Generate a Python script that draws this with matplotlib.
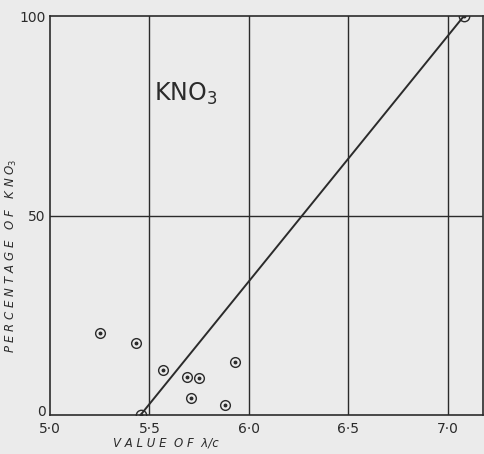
import matplotlib
matplotlib.use("Agg")
import matplotlib.pyplot as plt
import matplotlib.transforms as mtransforms

# Data
pts_x = [5.25, 5.43, 5.57, 5.69, 5.75, 5.71, 5.88, 5.93]
pts_y = [20.6, 18.0, 11.3, 9.4, 9.3, 4.3, 2.6, 13.2]
line_x = [5.455, 7.08]
line_y = [0, 100]
xticks = [5.0, 5.5, 6.0, 6.5, 7.0]
xtick_labels = ["5·0", "5·5", "6·0", "6·5", "7·0"]
yticks = [0, 50, 100]
ytick_labels = ["0", "50", "100"]

bg = "#ebebeb"
ink = "#2b2b2b"

fig = plt.figure(figsize=(4.84, 4.54), dpi=100, facecolor=bg)
ax = fig.add_axes([50/484, 39/454, 433/484, 399/454], facecolor=bg)

ax.set_xlim(5.0, 5.0 + 433/199)
ax.set_ylim(0, 100)

for xv in xticks[1:]:
    ax.axvline(xv, color=ink, lw=1.0, zorder=1)
ax.axhline(50, color=ink, lw=1.0, zorder=1)

for s in ax.spines.values():
    s.set_color(ink)
    s.set_linewidth(1.2)

ax.plot(line_x, line_y, color=ink, lw=1.4, zorder=3)
ax.plot(line_x, line_y, linestyle="none", marker="o", ms=7.5, mfc="none",
        mec=ink, mew=1.0, zorder=4)
ax.plot(pts_x, pts_y, linestyle="none", marker="o", ms=7, mfc="none",
        mec=ink, mew=1.0, zorder=4)
ax.plot(pts_x + line_x, pts_y + line_y, linestyle="none", marker="o", ms=1.8,
        color=ink, zorder=5)

ax.set_xticks(xticks)
ax.set_xticklabels(xtick_labels)
ax.set_yticks(yticks)
ax.set_yticklabels(ytick_labels)
ax.tick_params(length=0, labelsize=10, labelcolor=ink, pad=5)
ax.tick_params(axis="y", pad=3)

fig.canvas.draw()
zero_lbl = ax.get_yticklabels()[0]
zero_lbl.set_transform(zero_lbl.get_transform() +
                       mtransforms.ScaledTranslation(0, 4/100, fig.dpi_scale_trans))

ax.text(5.525, 80.5, "KNO$_3$", fontsize=17, color=ink, ha="left", va="center")

ax.set_xlabel("V A L U E  O F  λ/c", fontstyle="italic", fontsize=8.5,
              color=ink)
ax.xaxis.set_label_coords(0.268, -0.07)
ax.xaxis.label.set_va("center")
ax.set_ylabel("P E R C E N T A G E   O F   K N O$_3$", fontstyle="italic",
              fontsize=8.5, color=ink)
ax.yaxis.set_label_coords(-0.088, 0.40)
ax.yaxis.label.set_va("center")

fig.savefig("out.png", dpi=100, facecolor=bg)
